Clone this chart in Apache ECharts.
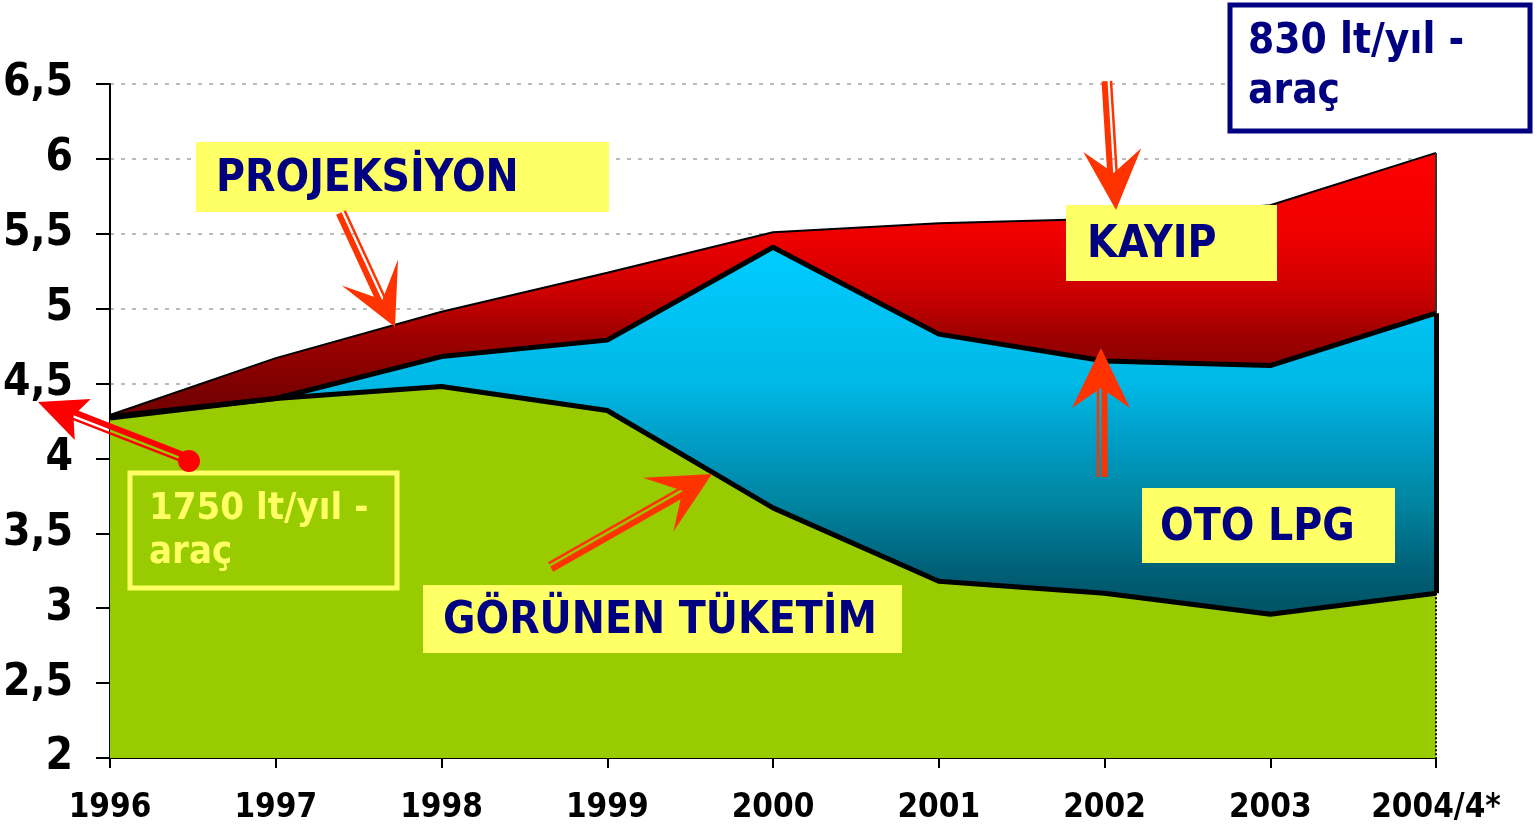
<!DOCTYPE html>
<html>
<head>
<meta charset="utf-8">
<script src="https://cdn.jsdelivr.net/npm/echarts@6/dist/echarts.min.js"></script>
<style>
  html, body { margin: 0; padding: 0; background: #fff; }
  #chart { width: 1537px; height: 831px; }
</style>
</head>
<body>
<div id="chart"></div>
<script>
// years on the x axis
const years = ['1996', '1997', '1998', '1999', '2000', '2001', '2002', '2003', '2004/4*']
// top of the red area (projeksiyon)
const projeksiyon = [4.29, 4.67, 4.98, 5.24, 5.51, 5.57, 5.60, 5.69, 6.04]
// top of the blue area (görünen tüketim + oto lpg)
const otoLpgTop = [4.28, 4.40, 4.68, 4.79, 5.41, 4.83, 4.65, 4.62, 4.97]
// top of the green area (görünen tüketim)
const gorunenTuketim = [4.27, 4.40, 4.48, 4.32, 3.67, 3.18, 3.10, 2.96, 3.10]

const yMin = 2
const yMax = 6.5
const yStep = 0.5

const navy = '#000080'
const yellow = '#FFFF66'
const condensed = '"DejaVu Sans Condensed", "DejaVu Sans", sans-serif'
const boxFont = 'bold 44px ' + condensed
const noteFont = 'bold 38px ' + condensed
const bigNoteFont = 'bold 42px ' + condensed

const chart = echarts.init(document.getElementById('chart'))

// hollow-shaft arrow like the ones in the slide
function arrow(tail, tip, color, headLen, headW, notch) {
  const dx = tip[0] - tail[0]
  const dy = tip[1] - tail[1]
  const len = Math.sqrt(dx * dx + dy * dy)
  const ux = dx / len, uy = dy / len
  const nx = -uy, ny = ux
  const nt = [tip[0] - ux * notch, tip[1] - uy * notch]
  const b1 = [tip[0] - ux * headLen + nx * headW / 2, tip[1] - uy * headLen + ny * headW / 2]
  const b2 = [tip[0] - ux * headLen - nx * headW / 2, tip[1] - uy * headLen - ny * headW / 2]
  const end = [nt[0] + ux * 2, nt[1] + uy * 2]
  return [
    { type: 'line', z: 100, shape: { x1: tail[0] + nx * 3.5, y1: tail[1] + ny * 3.5, x2: end[0] + nx * 3.5, y2: end[1] + ny * 3.5 }, style: { stroke: color, lineWidth: 6 } },
    { type: 'line', z: 100, shape: { x1: tail[0] - nx * 3, y1: tail[1] - ny * 3, x2: end[0] - nx * 3, y2: end[1] - ny * 3 }, style: { stroke: color, lineWidth: 2.5 } },
    { type: 'polygon', z: 101, shape: { points: [tip, b1, nt, b2] }, style: { fill: color } }
  ]
}

function box(x, y, w, h, text, textX) {
  return [
    { type: 'rect', z: 100, shape: { x: x, y: y, width: w, height: h }, style: { fill: yellow } },
    { type: 'text', z: 102, x: textX, y: y + h / 2 + 3, style: { text: text, fill: navy, font: boxFont, verticalAlign: 'middle' } }
  ]
}

const graphics = [].concat(
  box(196, 142, 413, 70, 'PROJEKSİYON', 216),
  box(1066, 205, 211, 76, 'KAYIP', 1087),
  box(1142, 488, 253, 75, 'OTO LPG', 1160),
  box(423, 585, 479, 68, 'GÖRÜNEN TÜKETİM', 443),
  [
    { type: 'rect', z: 100, shape: { x: 130, y: 473, width: 267, height: 115 }, style: { fill: 'none', stroke: yellow, lineWidth: 5 } },
    { type: 'text', z: 102, x: 149, y: 509, style: { text: '1750 lt/yıl -', fill: yellow, font: noteFont, verticalAlign: 'middle' } },
    { type: 'text', z: 102, x: 149, y: 553, style: { text: 'araç', fill: yellow, font: noteFont, verticalAlign: 'middle' } },
    { type: 'rect', z: 100, shape: { x: 1230, y: 5, width: 300, height: 126 }, style: { fill: '#fff', stroke: navy, lineWidth: 5 } },
    { type: 'text', z: 102, x: 1248, y: 42, style: { text: '830 lt/yıl -', fill: navy, font: bigNoteFont, verticalAlign: 'middle' } },
    { type: 'text', z: 102, x: 1248, y: 92, style: { text: 'araç', fill: navy, font: bigNoteFont, verticalAlign: 'middle' } },
    { type: 'circle', z: 101, shape: { cx: 189, cy: 461, r: 11 }, style: { fill: '#FF0000' } }
  ],
  arrow([342, 212], [395, 327], '#FF3300', 60, 62, 30),
  arrow([1108, 81], [1116, 210], '#FF3300', 60, 58, 37),
  arrow([1101, 477], [1101, 348], '#FF3300', 60, 58, 40),
  arrow([550, 566], [712, 474], '#FF3300', 62, 62, 34),
  arrow([187, 460], [38, 402], '#FF0000', 48, 44, 38)
)

chart.setOption({
  animation: false,
  backgroundColor: '#fff',
  grid: { left: 110, right: 101, top: 84, bottom: 73, containLabel: false, outerBoundsMode: 'none' },
  xAxis: {
    type: 'category',
    data: years,
    boundaryGap: false,
    axisLine: { show: true, lineStyle: { color: '#000', width: 2 } },
    axisTick: { show: true, alignWithLabel: true, length: 10, lineStyle: { color: '#000', width: 2 } },
    axisLabel: {
      color: '#000',
      fontFamily: condensed,
      fontWeight: 'bold',
      fontSize: 33,
      margin: 34,
      interval: 0
    },
    splitLine: { show: false }
  },
  yAxis: {
    type: 'value',
    min: yMin,
    max: yMax,
    interval: yStep,
    axisLine: { show: true, lineStyle: { color: '#000', width: 2 } },
    axisTick: { show: true, length: 14, lineStyle: { color: '#000', width: 2 } },
    axisLabel: {
      color: '#000',
      fontFamily: condensed,
      fontWeight: 'bold',
      fontSize: 44,
      margin: 37,
      formatter: v => String(v).replace('.', ',')
    },
    splitLine: { show: true, lineStyle: { color: '#BBBBBB', width: 2, type: [4, 7] } }
  },
  series: [
    {
      name: 'Projeksiyon',
      type: 'line',
      data: projeksiyon,
      symbol: 'none',
      lineStyle: { color: '#000', width: 2 },
      areaStyle: {
        origin: 'start',
        opacity: 1,
        color: new echarts.graphic.LinearGradient(0, 0, 0, 1, [
          { offset: 0, color: '#FF0000' },
          { offset: 0.14, color: '#EE0000' },
          { offset: 0.23, color: '#CC0000' },
          { offset: 0.3, color: '#A00000' },
          { offset: 0.4, color: '#780000' },
          { offset: 1, color: '#500000' }
        ])
      },
      markLine: {
        silent: true,
        symbol: 'none',
        label: { show: false },
        lineStyle: { color: '#333', width: 2, type: 'solid' },
        data: [[{ coord: [years[8], projeksiyon[8]] }, { coord: [years[8], otoLpgTop[8]] }]]
      }
    },
    {
      name: 'Oto LPG',
      type: 'line',
      data: otoLpgTop,
      symbol: 'none',
      lineStyle: { color: '#000', width: 5 },
      areaStyle: {
        origin: 'start',
        opacity: 1,
        color: new echarts.graphic.LinearGradient(0, 0, 0, 1, [
          { offset: 0, color: '#00CCFF' },
          { offset: 0.27, color: '#00B8E5' },
          { offset: 0.4, color: '#0098C0' },
          { offset: 0.5, color: '#0085A0' },
          { offset: 0.63, color: '#006078' },
          { offset: 0.7, color: '#005566' },
          { offset: 1, color: '#003040' }
        ])
      },
      markLine: {
        silent: true,
        symbol: 'none',
        label: { show: false },
        lineStyle: { color: '#000', width: 5, type: 'solid' },
        data: [[{ coord: [years[8], otoLpgTop[8]] }, { coord: [years[8], gorunenTuketim[8]] }]]
      }
    },
    {
      name: 'Görünen Tüketim',
      type: 'line',
      data: gorunenTuketim,
      symbol: 'none',
      lineStyle: { color: '#000', width: 5 },
      areaStyle: { origin: 'start', opacity: 1, color: '#99CC00' },
      markLine: {
        silent: true,
        symbol: 'none',
        label: { show: false },
        lineStyle: { color: '#000', width: 2, type: 'dotted' },
        data: [[{ coord: [years[8], gorunenTuketim[8]] }, { coord: [years[8], yMin] }]]
      }
    }
  ],
  graphic: graphics
})
</script>
</body>
</html>
